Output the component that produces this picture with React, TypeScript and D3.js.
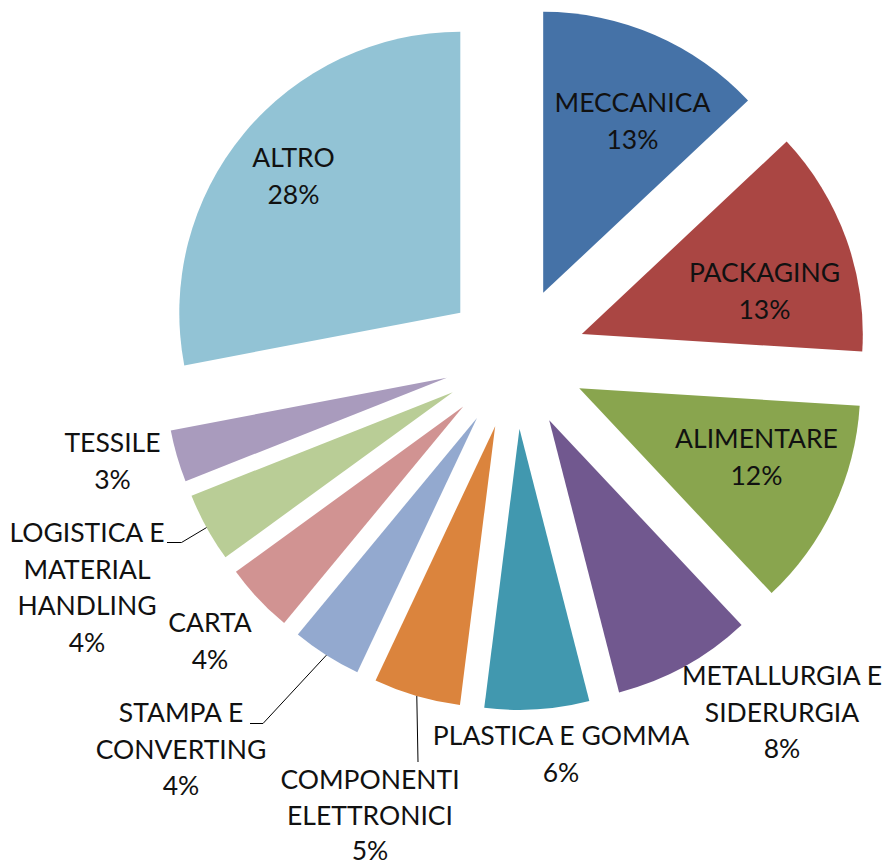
import React from 'react';
import * as d3 from 'd3';

// ---- data ----
const categories: string[] = [
  'MECCANICA',
  'PACKAGING',
  'ALIMENTARE',
  'METALLURGIA E SIDERURGIA',
  'PLASTICA E GOMMA',
  'COMPONENTI ELETTRONICI',
  'STAMPA E CONVERTING',
  'CARTA',
  'LOGISTICA E MATERIAL HANDLING',
  'TESSILE',
  'ALTRO',
];
const values: number[] = [13, 13, 12, 8, 6, 5, 4, 4, 4, 3, 28];
const labelLines: string[][] = [
  ['MECCANICA'],
  ['PACKAGING'],
  ['ALIMENTARE'],
  ['METALLURGIA E', 'SIDERURGIA'],
  ['PLASTICA E GOMMA'],
  ['COMPONENTI', 'ELETTRONICI'],
  ['STAMPA E', 'CONVERTING'],
  ['CARTA'],
  ['LOGISTICA E', 'MATERIAL', 'HANDLING'],
  ['TESSILE'],
  ['ALTRO'],
];

// ---- styles / layout ----
const colors: string[] = [
  '#4572A7', '#AA4643', '#89A54E', '#71588F', '#4198AF', '#DB843D',
  '#93A9CF', '#D19392', '#B9CD96', '#A99BBD', '#92C3D5',
];
const W = 886;
const H = 866;
const CX = 515;
const CY = 358;
const R = 281;
const EXPLODE = 71;
const FONT_SIZE = 26.5;
const LINE_H = 36.5;
// label anchor: centre x, first baseline y
const labelPos: [number, number][] = [
  [632.5, 112],
  [764.5, 282],
  [756.5, 448],
  [782, 685],
  [561, 745],
  [370, 789],
  [181, 722],
  [210, 632],
  [87, 542],
  [112.5, 452],
  [293.5, 167],
];
// per-label line spacing override (to keep last line inside the frame)
const labelLineH: number[] = [LINE_H, LINE_H, LINE_H, LINE_H, LINE_H, 35.5, LINE_H, LINE_H, LINE_H, LINE_H, LINE_H];
// leader line points after the slice edge (null = no leader)
const leaders: ([number, number][] | null)[] = [
  null, null, null, null, null,
  [[418, 762]],
  [[263, 723.5], [250, 723.5]],
  null,
  [[181.5, 542.5], [167, 542.5]],
  null, null,
];

export default function App() {
  const pie = d3.pie<number>().sort(null).value((d) => d).startAngle(0).endAngle(2 * Math.PI);
  const arcs = pie(values);
  const arc = d3.arc<d3.PieArcDatum<number>>().innerRadius(0).outerRadius(R);

  return (
    <svg
      width={W}
      height={H}
      style={{ position: 'absolute', left: 0, top: 0, background: '#fff' }}
      fontFamily="Lato, 'Noto Sans', sans-serif"
    >
      <rect width={W} height={H} fill="#fff" />
      <g transform={`translate(${CX},${CY})`}>
        {arcs.map((a, i) => {
          const mid = (a.startAngle + a.endAngle) / 2;
          const [ox, oy] = d3.pointRadial(mid, EXPLODE);
          return (
            <path key={categories[i]} d={arc(a) || ''} fill={colors[i]} transform={`translate(${ox},${oy})`} />
          );
        })}
      </g>
      {arcs.map((a, i) => {
        const pts = leaders[i];
        if (!pts) return null;
        const mid = (a.startAngle + a.endAngle) / 2;
        const [sx, sy] = d3.pointRadial(mid, EXPLODE + R);
        const all: [number, number][] = [[CX + sx, CY + sy], ...pts];
        return (
          <path key={'l' + i} d={d3.line()(all) || ''} fill="none" stroke="#000" strokeWidth={1} />
        );
      })}
      {arcs.map((a, i) => {
        const [x, y] = labelPos[i];
        const lines = [...labelLines[i], `${values[i]}%`];
        return (
          <text key={'t' + i} x={x} y={y} textAnchor="middle" fontSize={FONT_SIZE} fill="#111">
            {lines.map((ln, j) => (
              <tspan key={j} x={x} y={y + j * labelLineH[i]}>{ln}</tspan>
            ))}
          </text>
        );
      })}
    </svg>
  );
}
